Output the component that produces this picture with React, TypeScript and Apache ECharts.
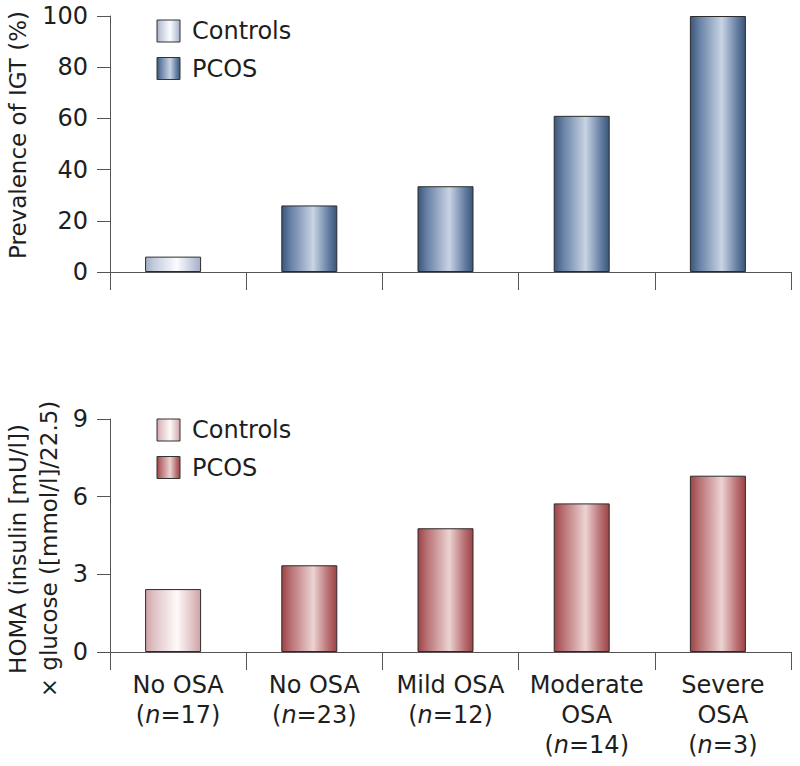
import React, { useEffect, useRef } from "react";
import * as echarts from "echarts";

const categories = ["No OSA", "No OSA", "Mild OSA", "Moderate\nOSA", "Severe\nOSA"];
const sampleSizes = [17, 23, 12, 14, 3];
const groups = ["Controls", "PCOS", "PCOS", "PCOS", "PCOS"];
const igtValues = [6, 26, 33.5, 61, 100];
const homaValues = [2.43, 3.35, 4.78, 5.74, 6.81];
const igtTicks = [0, 20, 40, 60, 80, 100];
const homaTicks = [0, 3, 6, 9];
const legendNames = ["Controls", "PCOS"];
const igtAxisName = "Prevalence of IGT (%)";
const homaAxisName = ["HOMA (insulin [mU/l])", "\u00d7 glucose ([mmol/l]/22.5)"];

const FONT = "DejaVu Sans";

function grad(edge: string, mid: string, light: string) {
  return new echarts.graphic.LinearGradient(0, 0, 1, 0, [
    { offset: 0, color: edge },
    { offset: 0.15, color: mid },
    { offset: 0.57, color: light },
    { offset: 0.85, color: mid },
    { offset: 1, color: edge },
  ]);
}

export default function App() {
  const ref = useRef<HTMLDivElement>(null);
  useEffect(() => {
    if (!ref.current) return;
    const chart = echarts.init(ref.current, undefined, { renderer: "svg" });
    const blue = {
      Controls: () => grad("#a3aec6", "#c3cbdc", "#fbfcfe"),
      PCOS: () => grad("#3b5678", "#647ea3", "#c9d4e4"),
    } as Record<string, () => any>;
    const red = {
      Controls: () => grad("#cfa2a7", "#e0c2c5", "#fefafa"),
      PCOS: () => grad("#9c4345", "#b76d70", "#ecd3d3"),
    } as Record<string, () => any>;

    const axisColor = "#555";
    const textColor = "#1e1e1e";

    const yAxisCommon = (ticks: number[], gridIndex: number) => ({
      gridIndex,
      type: "value" as const,
      min: ticks[0],
      max: ticks[ticks.length - 1],
      interval: ticks[1] - ticks[0],
      axisLine: { show: true, lineStyle: { color: axisColor, width: 1 } },
      axisTick: { show: true, length: 13, lineStyle: { color: axisColor, width: 1 } },
      axisLabel: { fontSize: 24, fontFamily: FONT, color: textColor, margin: 22 },
      splitLine: { show: false },
    });

    const xAxisCommon = (gridIndex: number) => ({
      gridIndex,
      type: "category" as const,
      data: categories,
      axisLine: { show: true, lineStyle: { color: axisColor, width: 1 } },
      axisTick: { show: true, length: 18, lineStyle: { color: axisColor, width: 1 } },
    });

    const barSeries = (values: number[], idx: number, palette: Record<string, () => any>) => [
      {
        type: "bar",
        xAxisIndex: idx,
        yAxisIndex: idx,
        barWidth: 56,
        barGap: "0%",
        data: values.map((v, i) => ({
          value: v,
          itemStyle: { color: palette[groups[i]]() },
        })),
        itemStyle: { borderColor: "#2b2b2b", borderWidth: 1 },
        silent: true,
      },
      {
        type: "bar",
        xAxisIndex: idx,
        yAxisIndex: idx,
        barWidth: 10,
        barGap: "0%",
        data: values.map(() => "-"),
        silent: true,
      },
    ];

    const legendItems = (top: number, palette: Record<string, () => any>) => {
      const out: any[] = [];
      legendNames.forEach((name, k) => {
        const y = top + k * 37.5;
        out.push({
          type: "rect",
          shape: { x: 157, y, width: 23, height: 22 },
          style: { fill: palette[name](), stroke: "#333", lineWidth: 1 },
        });
        out.push({
          type: "text",
          x: 192,
          y: y + 11,
          style: {
            text: name,
            font: `24px "${FONT}"`,
            fill: textColor,
            align: "left",
            verticalAlign: "middle",
            textAlign: "left",
            textVerticalAlign: "middle",
          },
        });
      });
      return out;
    };

    const nameText = (text: string, x: number, y: number) => ({
      type: "text",
      x,
      y,
      rotation: Math.PI / 2,
      style: {
        text,
        font: `23px "${FONT}"`,
        fill: textColor,
        align: "center",
        verticalAlign: "middle",
        textAlign: "center",
        textVerticalAlign: "middle",
      },
    });

    chart.setOption({
      animation: false,
      grid: [
        { left: 110, right: 9, top: 16, height: 256 },
        { left: 110, right: 9, top: 419, height: 233 },
      ],
      xAxis: [
        { ...xAxisCommon(0), axisLabel: { show: false } },
        {
          ...xAxisCommon(1),
          axisLabel: {
            interval: 0,
            margin: 18,
            formatter: (value: string, index: number) => {
              const lines = value.split("\n").map((l) => `{a|${l}}`);
              lines.push(`{a|(}{i|n}{a|=${sampleSizes[index]})}`);
              return lines.join("\n");
            },
            rich: {
              a: { fontSize: 24, fontFamily: FONT, color: textColor, lineHeight: 30 },
              i: { fontSize: 24, fontFamily: FONT, color: textColor, lineHeight: 30, fontStyle: "italic" },
            },
          },
        },
      ],
      yAxis: [yAxisCommon(igtTicks, 0), yAxisCommon(homaTicks, 1)],
      series: [...barSeries(igtValues, 0, blue), ...barSeries(homaValues, 1, red)],
      graphic: [
        ...legendItems(20, blue),
        ...legendItems(419, red),
        nameText(igtAxisName, 18, 135),
        nameText(homaAxisName[0], 18, 549),
        nameText(homaAxisName[1], 49, 549),
      ],
    });
    return () => chart.dispose();
  }, []);
  return (
    <div
      ref={ref}
      style={{ position: "absolute", left: 0, top: 0, width: 800, height: 766, background: "#fff" }}
    />
  );
}
